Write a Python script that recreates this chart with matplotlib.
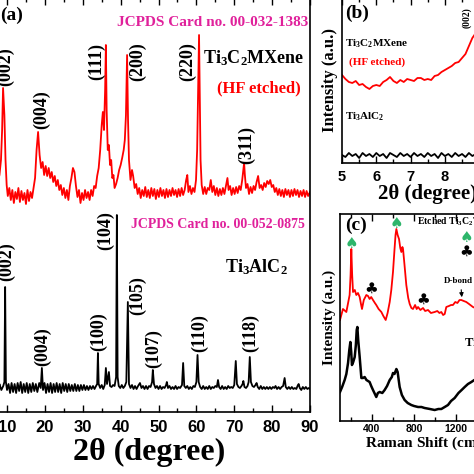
import matplotlib
matplotlib.use("Agg")
import matplotlib.pyplot as plt
from matplotlib.ticker import MultipleLocator
import numpy as np

plt.rcParams["font.family"] = "serif"
plt.rcParams["font.serif"] = ["Liberation Serif", "DejaVu Serif"]
plt.rcParams["font.weight"] = "bold"
plt.rcParams["axes.labelweight"] = "bold"
plt.rcParams["mathtext.fontset"] = "custom"
plt.rcParams["mathtext.rm"] = "Liberation Serif:bold"
plt.rcParams["mathtext.bf"] = "Liberation Serif:bold"
plt.rcParams["mathtext.it"] = "Liberation Serif:bold"
plt.rcParams["mathtext.default"] = "rm"

MAGENTA = "#E0219B"
RED = "#FF0000"
GREEN = "#2DB56A"

# (a) XRD, Ti3C2 MXene (HF etched), stacked on top -> (2theta, intensity a.u.)
xrd_mxene = [
    (5.0, 227), (5.5, 224), (6.0, 226), (6.5, 222), (7.0, 227), (7.5, 230), (8.0, 237),
    (8.4, 252), (8.7, 282), (8.95, 324), (9.3, 297), (9.6, 252), (9.9, 227), (10.2, 216),
    (10.6, 224), (11.0, 212), (11.4, 222), (11.8, 209), (12.2, 220), (12.6, 213), (13.0, 224),
    (13.4, 210), (13.8, 221), (14.2, 212), (14.6, 219), (15.0, 208), (15.4, 222), (15.8, 211),
    (16.2, 220), (16.6, 214), (17.0, 224), (17.4, 234), (17.8, 262), (18.2, 280), (18.6, 257),
    (19.0, 244), (19.4, 250), (19.8, 237), (20.2, 246), (20.6, 236), (21.0, 244), (21.4, 234),
    (21.8, 240), (22.2, 230), (22.6, 236), (23.0, 226), (23.4, 232), (23.8, 222), (24.2, 227),
    (24.6, 217), (25.0, 224), (25.4, 214), (25.8, 222), (26.2, 212), (26.6, 226), (27.0, 234),
    (27.4, 244), (27.8, 240), (28.2, 226), (28.6, 215), (29.0, 222), (29.4, 209), (29.8, 219),
    (30.2, 212), (30.6, 222), (31.0, 214), (31.4, 220), (31.8, 212), (32.2, 222), (32.6, 216),
    (33.0, 226), (33.4, 224), (33.8, 236), (34.2, 244), (34.6, 262), (35.0, 287), (35.3, 300),
    (35.6, 282), (35.9, 322), (36.1, 367), (36.3, 302), (36.6, 262), (36.9, 267), (37.2, 247),
    (37.5, 252), (37.8, 234), (38.1, 237), (38.4, 224), (38.8, 228), (39.2, 234), (39.6, 242),
    (40.0, 247), (40.4, 254), (40.8, 262), (41.1, 272), (41.4, 297), (41.7, 357), (41.95, 292),
    (42.2, 252), (42.6, 232), (43.0, 242), (43.3, 236), (43.7, 224), (44.1, 228), (44.5, 218),
    (44.9, 224), (45.3, 214), (45.7, 222), (46.1, 216), (46.5, 225), (46.9, 215), (47.3, 222),
    (47.7, 214), (48.1, 224), (48.5, 216), (48.9, 223), (49.3, 213), (49.7, 222), (50.1, 215),
    (50.5, 224), (50.9, 216), (51.3, 222), (51.7, 214), (52.1, 223), (52.5, 215), (52.9, 222),
    (53.3, 216), (53.7, 224), (54.1, 217), (54.5, 222), (54.9, 215), (55.3, 223), (55.7, 216),
    (56.1, 224), (56.5, 217), (56.9, 222), (57.3, 232), (57.6, 237), (57.9, 220), (58.3, 226),
    (58.7, 218), (59.1, 224), (59.5, 220), (59.9, 232), (60.2, 262), (60.5, 332), (60.7, 377),
    (60.9, 312), (61.1, 252), (61.4, 227), (61.8, 218), (62.2, 225), (62.6, 218), (63.0, 224),
    (63.4, 222), (63.8, 232), (64.2, 220), (64.6, 226), (65.0, 217), (65.4, 224), (65.8, 216),
    (66.2, 223), (66.6, 217), (67.0, 224), (67.4, 218), (67.8, 226), (68.2, 234), (68.5, 222),
    (68.9, 226), (69.3, 217), (69.7, 224), (70.1, 218), (70.5, 225), (70.9, 219), (71.3, 226),
    (71.7, 222), (72.1, 232), (72.4, 242), (72.6, 249), (72.8, 237), (73.1, 224), (73.5, 228),
    (73.9, 218), (74.3, 225), (74.7, 219), (75.1, 226), (75.5, 222), (75.9, 230), (76.3, 236),
    (76.7, 224), (77.1, 227), (77.5, 222), (77.9, 229), (78.3, 225), (78.7, 231), (79.1, 228),
    (79.5, 232), (79.9, 225), (80.3, 227), (80.7, 220), (81.1, 224), (81.5, 217), (81.9, 223),
    (82.3, 216), (82.7, 222), (83.1, 215), (83.5, 223), (83.9, 217), (84.3, 222), (84.7, 215),
    (85.1, 222), (85.5, 216), (85.9, 223), (86.3, 217), (86.7, 222), (87.1, 215), (87.5, 221),
    (87.9, 216), (88.3, 222), (88.7, 215), (89.1, 221), (89.5, 216), (90.0, 220),
]

# (a) XRD, Ti3AlC2 MAX phase, bottom trace
xrd_max = [
    (5.0, 24), (5.5, 20), (6.0, 28), (6.5, 21), (7.0, 27), (7.5, 20), (8.0, 28), (8.5, 22),
    (9.0, 26), (9.3, 30), (9.5, 125), (9.7, 30), (10.0, 22), (10.4, 28), (10.8, 19), (11.2, 29),
    (11.6, 20), (12.0, 28), (12.4, 19), (12.8, 29), (13.2, 21), (13.6, 30), (14.0, 19), (14.4, 28),
    (14.8, 20), (15.2, 29), (15.6, 19), (16.0, 28), (16.4, 20), (16.8, 29), (17.2, 21), (17.6, 28),
    (18.0, 20), (18.5, 29), (18.9, 24), (19.2, 44), (19.5, 22), (19.9, 29), (20.3, 19), (20.7, 28),
    (21.1, 20), (21.5, 29), (21.9, 19), (22.3, 28), (22.7, 20), (23.1, 29), (23.5, 20), (23.9, 28),
    (24.3, 19), (24.7, 29), (25.1, 21), (25.5, 28), (25.9, 20), (26.3, 28), (26.7, 21), (27.1, 27),
    (27.5, 21), (27.9, 28), (28.3, 21), (28.7, 27), (29.1, 21), (29.5, 27), (29.9, 22), (30.3, 27),
    (30.7, 22), (31.1, 26), (31.5, 22), (31.9, 26), (32.3, 23), (32.7, 26), (33.1, 23), (33.5, 26),
    (33.8, 28), (34.0, 59), (34.2, 28), (34.6, 24), (35.0, 27), (35.4, 23), (35.8, 27), (36.1, 44),
    (36.4, 28), (36.9, 40), (37.2, 26), (37.6, 25), (38.0, 27), (38.4, 26), (38.8, 35), (39.0, 197),
    (39.2, 35), (39.5, 26), (39.9, 24), (40.3, 27), (40.7, 24), (41.1, 26), (41.5, 30), (41.9, 110),
    (42.2, 28), (42.6, 24), (43.0, 27), (43.4, 23), (43.8, 26), (44.2, 23), (44.6, 26), (45.1, 29),
    (45.5, 24), (45.9, 26), (46.3, 23), (46.7, 26), (47.1, 23), (47.5, 26), (47.9, 25), (48.3, 30),
    (48.5, 42), (48.8, 28), (49.2, 24), (49.6, 26), (50.0, 23), (50.4, 26), (50.8, 23), (51.2, 25),
    (51.6, 24), (52.0, 27), (52.2, 30), (52.5, 24), (52.9, 26), (53.3, 23), (53.7, 25), (54.1, 23),
    (54.5, 26), (54.9, 23), (55.3, 25), (55.7, 24), (56.2, 27), (56.5, 49), (56.8, 26), (57.2, 24),
    (57.6, 26), (58.0, 23), (58.4, 25), (58.8, 23), (59.2, 26), (59.6, 25), (60.0, 30), (60.3, 57),
    (60.6, 30), (61.0, 25), (61.4, 23), (61.8, 26), (62.2, 23), (62.6, 25), (63.0, 23), (63.4, 26),
    (63.8, 23), (64.2, 25), (64.6, 24), (65.0, 26), (65.4, 25), (65.7, 32), (66.0, 25), (66.4, 23),
    (66.8, 26), (67.2, 23), (67.6, 25), (68.0, 23), (68.4, 26), (68.8, 24), (69.2, 25), (69.6, 24),
    (70.0, 27), (70.4, 51), (70.7, 28), (71.1, 25), (71.5, 24), (71.9, 26), (72.2, 28), (72.4, 31),
    (72.7, 25), (73.1, 24), (73.5, 26), (73.8, 30), (74.1, 55), (74.4, 30), (74.8, 26), (75.2, 25),
    (75.6, 27), (75.9, 29), (76.2, 25), (76.6, 23), (77.0, 26), (77.4, 23), (77.8, 25), (78.2, 23),
    (78.6, 25), (79.0, 23), (79.4, 25), (79.8, 23), (80.2, 25), (80.6, 24), (80.9, 26), (81.3, 23),
    (81.7, 25), (82.1, 23), (82.5, 25), (82.9, 26), (83.3, 34), (83.6, 25), (84.0, 23), (84.4, 25),
    (84.8, 23), (85.2, 25), (85.6, 23), (86.0, 24), (86.4, 23), (86.7, 26), (87.0, 28), (87.3, 24),
    (87.7, 22), (88.1, 25), (88.5, 23), (88.9, 25), (89.3, 23), (89.7, 24), (90.0, 23),
]

# peak indexing (hkl, 2theta of label, height of label centre)
mxene_hkl = [("(002)", 9.5, 345), ("(004)", 19.2, 302), ("(111)", 33.7, 350),
             ("(200)", 44.6, 350), ("(220)", 57.8, 350), ("(311)", 73.3, 267)]
max_hkl = [("(002)", 10.0, 150), ("(004)", 19.5, 65), ("(100)", 34.3, 80), ("(104)", 36.1, 181),
           ("(105)", 44.6, 116), ("(107)", 48.8, 63), ("(110)", 60.9, 79), ("(118)", 74.4, 79)]

# (b) low angle zoom
low_mxene = [
    (5.0, 88), (5.1, 84), (5.2, 81), (5.3, 80), (5.4, 82), (5.5, 78), (5.6, 79), (5.7, 76),
    (5.8, 74), (5.9, 77), (6.0, 78), (6.1, 77), (6.2, 81), (6.3, 83), (6.4, 86), (6.5, 82),
    (6.6, 80), (6.7, 83), (6.8, 81), (6.9, 84), (7.0, 83), (7.1, 82), (7.2, 85), (7.3, 85),
    (7.4, 83), (7.5, 84), (7.6, 83), (7.7, 87), (7.8, 88), (7.9, 91), (8.0, 93), (8.1, 95),
    (8.2, 97), (8.3, 100), (8.4, 101), (8.5, 105), (8.6, 109), (8.7, 117), (8.8, 125),
    (8.9, 130), (9.0, 135),
]
low_max = [
    (5.0, 8), (5.1, 6), (5.2, 10), (5.3, 7), (5.4, 9), (5.5, 5), (5.6, 10), (5.7, 7), (5.8, 9),
    (5.9, 6), (6.0, 10), (6.1, 7), (6.2, 9), (6.3, 5), (6.4, 10), (6.5, 8), (6.6, 6), (6.7, 10),
    (6.8, 7), (6.9, 9), (7.0, 6), (7.1, 10), (7.2, 7), (7.3, 9), (7.4, 6), (7.5, 10), (7.6, 7),
    (7.7, 9), (7.8, 5), (7.9, 10), (8.0, 7), (8.1, 9), (8.2, 6), (8.3, 10), (8.4, 7), (8.5, 9),
    (8.6, 6), (8.7, 10), (8.8, 7), (8.9, 9), (9.0, 6),
]

# (c) Raman spectra (shift cm-1, intensity a.u.)
raman_etched = [
    (100, 101), (128, 112), (160, 109), (191, 126), (200, 146), (207, 172), (215, 146), (223, 129),
    (240, 131), (254, 126), (270, 128), (286, 124), (300, 116), (308, 112), (325, 121), (349, 126),
    (365, 125), (380, 122), (395, 124), (412, 121), (430, 118), (443, 116), (465, 112), (491, 109),
    (510, 105), (532, 101), (550, 108), (570, 119), (585, 131), (601, 149), (615, 171), (625, 186),
    (633, 192), (645, 186), (658, 182), (670, 173), (680, 169), (690, 174), (696, 172), (710, 156),
    (727, 136), (745, 123), (759, 117), (775, 113), (790, 112), (810, 116), (825, 112), (838, 114),
    (860, 111), (885, 113), (905, 110), (932, 111), (960, 108), (995, 109), (1020, 110), (1040, 108),
    (1058, 109), (1075, 106), (1090, 107), (1105, 114), (1130, 115), (1150, 116), (1168, 116),
    (1190, 119), (1210, 118), (1230, 121), (1247, 121), (1270, 120), (1294, 119), (1320, 117),
    (1357, 114), (1400, 112),
]
raman_max = [
    (100, 29), (120, 34), (144, 41), (160, 47), (176, 58), (188, 71), (198, 79), (206, 69), (213, 56),
    (225, 59), (239, 64), (250, 76), (258, 91), (264, 94), (272, 81), (286, 64), (302, 43), (318, 43),
    (333, 44), (350, 41), (380, 39), (395, 35), (412, 31), (430, 27), (443, 24), (458, 28), (475, 29),
    (500, 28), (522, 31), (545, 35), (570, 41), (590, 44), (601, 48), (615, 47), (633, 52), (645, 49),
    (655, 41), (664, 34), (685, 26), (711, 21), (740, 18), (774, 16), (800, 15), (838, 14), (870, 14),
    (900, 13), (950, 12), (995, 11), (1030, 12), (1058, 12), (1090, 14), (1121, 16), (1150, 20),
    (1184, 23), (1220, 28), (1250, 31), (1279, 34), (1310, 37), (1342, 39), (1370, 41), (1400, 42),
]
spade_marks = [(207, 177), (633, 197), (1291, 184)]
club_marks = [(393, 133), (885, 122), (1291, 170)]


def style_axis(ax, major, minor, size, pad):
    ax.xaxis.set_major_locator(MultipleLocator(major))
    ax.xaxis.set_minor_locator(MultipleLocator(minor))
    ax.tick_params(axis="x", which="both", direction="in", top=True, width=1.0,
                   pad=pad, labelsize=size, labelfontfamily="Liberation Sans")
    ax.tick_params(axis="x", which="major", length=5)
    ax.tick_params(axis="x", which="minor", length=3)
    ax.tick_params(axis="y", which="both", left=False, right=False, labelleft=False)
    for s in ax.spines.values():
        s.set_linewidth(1.2)


def xy(pairs):
    arr = np.array(pairs, dtype=float)
    return arr[:, 0], arr[:, 1]


fig = plt.figure(figsize=(4.74, 4.74), dpi=100)

# ---- panel (a)
ax = fig.add_axes([-11.9 / 474, 62 / 474, 321.9 / 474, 414 / 474])
ax.plot(*xy(xrd_mxene), color=RED, lw=1.3)
ax.plot(*xy(xrd_max), color="black", lw=1.3)
ax.set_xlim(5, 90)
ax.set_ylim(0, 414)
style_axis(ax, 10, 5, 12, 6)
ax.set_xlabel("2θ (degree)", fontsize=23, labelpad=2)
for lab, x, y in mxene_hkl + max_hkl:
    ax.text(x, y, lab, rotation=90, ha="center", va="center", fontsize=13)
ax.text(8.2, 397, "(a)", fontsize=14, va="center")
ax.text(89.5, 390, "JCPDS Card no. 00-032-1383", color=MAGENTA, fontsize=11, ha="right", va="center")
ax.text(88.6, 354, "Ti$_3$C$_2$MXene", fontsize=13, ha="right", va="center")
ax.text(76.5, 324, "(HF etched)", color=RED, fontsize=12, ha="center", va="center")
ax.text(88.6, 187, "JCPDS Card no. 00-052-0875", color=MAGENTA, fontsize=10, ha="right", va="center")
ax.text(84.1, 145, "Ti$_3$AlC$_2$", fontsize=13, ha="right", va="center")

# ---- panel (b)
ax = fig.add_axes([342 / 474, 311 / 474, 171.5 / 474, 165 / 474])
ax.plot(*xy(low_mxene), color=RED, lw=1.3)
ax.plot(*xy(low_max), color="black", lw=1.3)
ax.set_xlim(5, 10)
ax.set_ylim(0, 165)
style_axis(ax, 1, 0.5, 10.5, 5)
ax.set_xlabel("2θ (degree)", fontsize=15, labelpad=0)
ax.set_ylabel("Intensity (a.u.)", fontsize=12, labelpad=3)
ax.text(5.08, 150, "(b)", fontsize=14, va="center")
ax.text(5.08, 119, "Ti$_3$C$_2$MXene", fontsize=8, va="center")
ax.text(5.2, 101, "(HF etched)", color=RED, fontsize=8, va="center")
ax.text(5.08, 46, "Ti$_3$AlC$_2$", fontsize=8, va="center")
ax.text(8.65, 145, "(002)", rotation=90, fontsize=7, ha="center", va="center")

# ---- panel (c)
ax = fig.add_axes([340 / 474, 53 / 474, 179.8 / 474, 207 / 474])
ax.plot(*xy(raman_etched), color=RED, lw=1.3)
ax.plot(*xy(raman_max), color="black", lw=1.8)
ax.set_xlim(100, 1800)
ax.set_ylim(0, 207)
style_axis(ax, 400, 200, 7.5, 2)
ax.set_xlabel("Raman Shift (cm$^{-1}$)", fontsize=11, labelpad=1)
ax.set_ylabel("Intensity (a.u.)", fontsize=11, labelpad=3)
ax.text(150, 196, "(c)", fontsize=14, va="center")
ax.text(830, 199, "Etched Ti$_3$C$_2$T$_x$", fontsize=7, va="center")
ax.text(1272, 78, "Ti$_3$AlC$_2$", fontsize=9, va="center")
ax.text(1085, 140, "D-bond", fontsize=6.5, va="center")
ax.annotate("", xy=(1254, 121), xytext=(1244, 134),
            arrowprops=dict(arrowstyle="-|>", color="black", lw=0.8, mutation_scale=6))
for x, y in spade_marks:
    ax.text(x, y, "♠", color=GREEN, fontsize=11, family="DejaVu Sans", ha="center", va="center")
for x, y in club_marks:
    ax.text(x, y, "♣", color="black", fontsize=11, family="DejaVu Sans", ha="center", va="center")

fig.savefig("out.png", dpi=100)
